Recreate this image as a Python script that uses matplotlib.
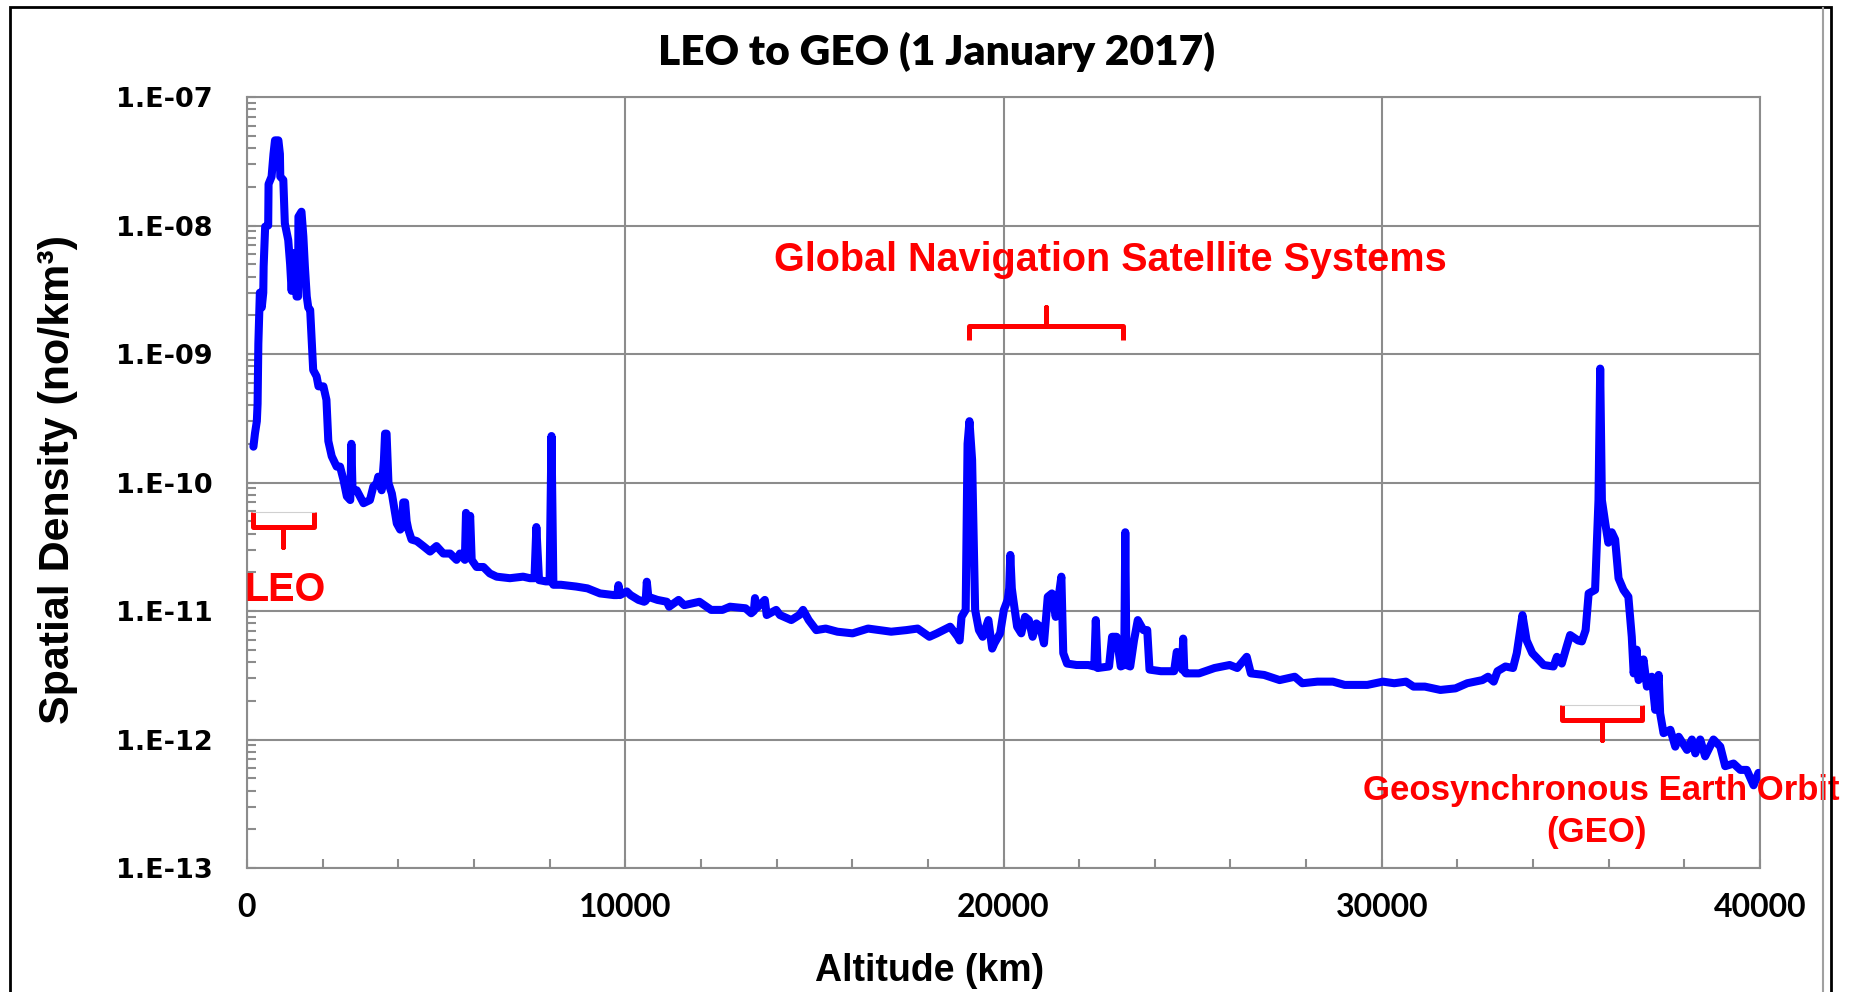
import numpy as np
import matplotlib
matplotlib.use("Agg")
import matplotlib.pyplot as plt
from matplotlib.ticker import FixedLocator, MultipleLocator, LogLocator, FuncFormatter, NullFormatter
from matplotlib.patches import Rectangle
from matplotlib.lines import Line2D

# altitude (km) and spatial density (no/km^3)
altitude = [
    170, 210, 260, 280, 300, 340, 390, 430, 440, 480, 560, 570, 650, 700, 740, 830, 870, 880,
    960, 1000, 1090, 1140, 1180, 1230, 1270, 1310, 1350, 1360, 1440, 1490, 1530, 1580, 1620,
    1670, 1710, 1750, 1840, 1890, 2020, 2100, 2150, 2240, 2370, 2460, 2550, 2640, 2730, 2760,
    2790, 2900, 3080, 3250, 3340, 3430, 3470, 3560, 3620, 3650, 3690, 3740, 3830, 3960, 4050,
    4100, 4130, 4180, 4220, 4265, 4350, 4490, 4660, 4840, 5010, 5190, 5370, 5540, 5630, 5760,
    5790, 5850, 5900, 5940, 6070, 6250, 6420, 6600, 6950, 7300, 7480, 7600, 7650, 7720, 7900,
    8000, 8050, 8100, 8300, 8700, 9000, 9333, 9700, 9790, 9820, 9860, 10040, 10140, 10350,
    10500, 10540, 10570, 10610, 10850, 11100, 11160, 11410, 11560, 11960, 12270, 12570, 12770,
    13180, 13330, 13400, 13430, 13470, 13690, 13740, 13990, 14090, 14390, 14600, 14700, 14850,
    15050, 15300, 15610, 16010, 16420, 17030, 17430, 17730, 18040, 18240, 18590, 18790, 18840,
    18890, 19000, 19050, 19100, 19170, 19250, 19350, 19450, 19600, 19700, 19760, 19910, 20010,
    20110, 20150, 20180, 20220, 20260, 20360, 20470, 20570, 20670, 20770, 20870, 20970, 21070,
    21170, 21280, 21380, 21470, 21530, 21580, 21680, 21930, 22240, 22400, 22440, 22490, 22790,
    22870, 22990, 23100, 23190, 23220, 23250, 23350, 23450, 23550, 23700, 23800, 23860, 24160,
    24510, 24580, 24720, 24750, 24780, 24820, 25170, 25580, 25980, 26180, 26430, 26540, 26890,
    27300, 27700, 27900, 28300, 28710, 29020, 29620, 30030, 30330, 30640, 30840, 31140, 31550,
    31950, 32260, 32660, 32810, 32960, 33060, 33270, 33470, 33570, 33720, 33830, 33980, 34280,
    34540, 34630, 34760, 34890, 34980, 35190, 35290, 35390, 35470, 35640, 35690, 35730, 35775,
    35820, 35910, 35990, 36080, 36170, 36260, 36390, 36520, 36610, 36660, 36740, 36790, 36920,
    37010, 37140, 37230, 37320, 37360, 37450, 37630, 37760, 37850, 38070, 38200, 38290, 38420,
    38550, 38770, 38950, 39080, 39300, 39480, 39650, 39830, 39960,
]
density = [
    1.9e-10, 2.4e-10, 3.0e-10, 4.1e-10, 1.2e-9, 3.0e-9, 2.3e-9, 3.0e-9, 4.8e-9, 9.8e-9, 1.0e-8,
    2.1e-8, 2.4e-8, 3.6e-8, 4.6e-8, 4.6e-8, 3.6e-8, 2.4e-8, 2.26e-8, 1.04e-8, 7.7e-9, 5.0e-9,
    3.1e-9, 6.1e-9, 6.1e-9, 2.8e-9, 2.8e-9, 1.17e-8, 1.28e-8, 8.2e-9, 4.8e-9, 2.8e-9, 2.3e-9,
    2.2e-9, 1.29e-9, 7.5e-10, 6.7e-10, 5.6e-10, 5.6e-10, 4.4e-10, 2.1e-10, 1.6e-10, 1.33e-10,
    1.33e-10, 1.05e-10, 7.8e-11, 7.3e-11, 2.0e-10, 8.7e-11, 8.7e-11, 6.9e-11, 7.3e-11, 9.3e-11,
    9.9e-11, 1.11e-10, 8.7e-11, 1.5e-10, 2.4e-10, 2.4e-10, 9.9e-11, 8.2e-11, 4.8e-11, 4.3e-11,
    4.5e-11, 7.0e-11, 7.0e-11, 5.0e-11, 4.3e-11, 3.6e-11, 3.5e-11, 3.2e-11, 2.9e-11, 3.2e-11,
    2.8e-11, 2.8e-11, 2.5e-11, 2.8e-11, 2.5e-11, 5.8e-11, 4.0e-11, 5.5e-11, 2.5e-11, 2.2e-11,
    2.2e-11, 1.96e-11, 1.85e-11, 1.8e-11, 1.85e-11, 1.8e-11, 1.8e-11, 4.5e-11, 1.74e-11,
    1.7e-11, 1.7e-11, 2.3e-10, 1.6e-11, 1.6e-11, 1.55e-11, 1.5e-11, 1.37e-11, 1.33e-11,
    1.33e-11, 1.59e-11, 1.33e-11, 1.42e-11, 1.33e-11, 1.22e-11, 1.18e-11, 1.2e-11, 1.69e-11,
    1.29e-11, 1.22e-11, 1.18e-11, 1.08e-11, 1.22e-11, 1.11e-11, 1.18e-11, 1.02e-11, 1.02e-11,
    1.08e-11, 1.05e-11, 9.6e-12, 1.0e-11, 1.26e-11, 1.05e-11, 1.22e-11, 9.3e-12, 1.02e-11,
    9.3e-12, 8.5e-12, 9.3e-12, 1.02e-11, 8.5e-12, 7.1e-12, 7.3e-12, 6.9e-12, 6.7e-12, 7.3e-12,
    6.9e-12, 7.1e-12, 7.3e-12, 6.3e-12, 6.7e-12, 7.55e-12, 6.3e-12, 5.9e-12, 9.0e-12, 1.02e-11,
    2.0e-10, 3.0e-10, 1.5e-10, 1.02e-11, 7.1e-12, 6.3e-12, 8.5e-12, 5.1e-12, 5.6e-12, 6.7e-12,
    1.02e-11, 1.22e-11, 1.5e-11, 2.73e-11, 1.5e-11, 1.22e-11, 7.55e-12, 6.7e-12, 9.0e-12,
    8.5e-12, 6.3e-12, 8.0e-12, 7.55e-12, 5.6e-12, 1.29e-11, 1.37e-11, 9.0e-12, 1.37e-11,
    1.85e-11, 4.7e-12, 3.9e-12, 3.8e-12, 3.8e-12, 3.7e-12, 8.5e-12, 3.6e-12, 3.7e-12, 6.3e-12,
    6.3e-12, 3.7e-12, 3.8e-12, 4.1e-11, 3.8e-12, 3.7e-12, 5.9e-12, 8.5e-12, 7.1e-12, 7.1e-12,
    3.5e-12, 3.4e-12, 3.4e-12, 4.8e-12, 3.5e-12, 6.1e-12, 3.4e-12, 3.27e-12, 3.27e-12, 3.6e-12,
    3.8e-12, 3.6e-12, 4.4e-12, 3.27e-12, 3.18e-12, 2.9e-12, 3.08e-12, 2.74e-12, 2.82e-12,
    2.82e-12, 2.66e-12, 2.66e-12, 2.82e-12, 2.74e-12, 2.82e-12, 2.58e-12, 2.58e-12, 2.43e-12,
    2.5e-12, 2.74e-12, 2.9e-12, 3.08e-12, 2.82e-12, 3.4e-12, 3.7e-12, 3.6e-12, 4.7e-12,
    9.3e-12, 5.9e-12, 4.7e-12, 3.8e-12, 3.7e-12, 4.4e-12, 3.9e-12, 5.3e-12, 6.5e-12, 5.9e-12,
    5.8e-12, 7.1e-12, 1.37e-11, 1.46e-11, 3.6e-11, 7.3e-11, 7.7e-10, 7.3e-11, 4.8e-11, 3.4e-11,
    4.1e-11, 3.6e-11, 1.8e-11, 1.46e-11, 1.29e-11, 6.3e-12, 3.27e-12, 5.0e-12, 2.9e-12,
    4.2e-12, 2.58e-12, 3.08e-12, 1.7e-12, 3.18e-12, 1.6e-12, 1.12e-12, 1.19e-12, 8.8e-13,
    1.05e-12, 8.3e-13, 1.0e-12, 7.8e-13, 1.0e-12, 7.4e-13, 1.0e-12, 8.8e-13, 6.2e-13, 6.5e-13,
    5.8e-13, 5.8e-13, 4.4e-13, 5.5e-13,
]

x_ticks = [0, 10000, 20000, 30000, 40000]
y_ticks = [1e-13, 1e-12, 1e-11, 1e-10, 1e-9, 1e-8, 1e-7]

W, H = 1857, 992
fig = plt.figure(figsize=(W / 100, H / 100), dpi=100)
ax = fig.add_axes([247 / W, 1 - 868 / H, 1513 / W, 771 / H])

gray = "#8c8c8c"
ax.plot(altitude, density, color="#0000ff", lw=5.8, solid_joinstyle="round",
        solid_capstyle="round", zorder=3)

ax.set_yscale("log")
ax.set_xlim(0, 40000)
ax.set_ylim(1e-13, 1e-7)
ax.xaxis.set_major_locator(FixedLocator(x_ticks))
ax.xaxis.set_minor_locator(MultipleLocator(2000))
ax.yaxis.set_major_locator(FixedLocator(y_ticks))
ax.yaxis.set_minor_locator(LogLocator(base=10, subs=np.arange(2, 10)))
ax.yaxis.set_minor_formatter(NullFormatter())
ax.yaxis.set_major_formatter(FuncFormatter(lambda v, p: "1.E%03d" % int(round(np.log10(v)))))

ax.grid(True, which="major", color=gray, lw=1.5, zorder=1)
for s in ax.spines.values():
    s.set_color(gray)
    s.set_linewidth(1.5)
ax.tick_params(which="both", direction="in", color=gray, width=1.5, length=6.5)
ax.tick_params(axis="y", pad=25)
ax.tick_params(axis="x", pad=18)
for lab in ax.get_yticklabels():
    lab.set_fontfamily("DejaVu Sans")
    lab.set_fontweight("bold")
    lab.set_fontsize(19.5)
for lab in ax.get_xticklabels():
    lab.set_fontfamily("Lato")
    lab.set_fontweight("bold")
    lab.set_fontsize(23)

# titles and axis labels
fig.text(937 / W, 1 - 52 / H, "LEO to GEO (1 January 2017)", ha="center", va="center",
         fontfamily="Lato", fontweight="heavy", fontsize=30.5)
fig.text(930 / W, 1 - 971 / H, "Altitude (km)", ha="center", va="center",
         fontfamily="Liberation Sans", fontweight="bold", fontsize=27)
fig.text(58 / W, 1 - 480 / H, "Spatial Density (no/km³)", ha="center", va="center",
         rotation=90, fontfamily="Liberation Sans", fontweight="bold", fontsize=31)

# red annotations
red = "#ff0000"
ax.text(22818, 5.4e-9, "Global Navigation Satellite Systems", ha="center", va="center",
        color=red, fontfamily="Liberation Sans", fontweight="bold", fontsize=28.5)
ax.text(-80, 1.45e-11, "LEO", ha="left", va="center", color=red,
        fontfamily="Liberation Sans", fontweight="bold", fontsize=28.5, clip_on=False)
ax.text(35800, 4.0e-13, "Geosynchronous Earth Orbit", ha="center", va="center", color=red,
        fontfamily="Liberation Sans", fontweight="bold", fontsize=25, clip_on=False, zorder=5)
ax.text(35670, 1.9e-13, "(GEO)", ha="center", va="center", color=red,
        fontfamily="Liberation Sans", fontweight="bold", fontsize=25, clip_on=False, zorder=5)


def brace(x0, x1, y_end, y_mid, y_tip, top_line=False):
    xm = (x0 + x1) / 2
    ax.plot([x0, x0, xm, xm, xm, x1, x1], [y_end, y_mid, y_mid, y_tip, y_mid, y_mid, y_end],
            color=red, lw=3.6, solid_joinstyle="round", solid_capstyle="butt", zorder=4)
    if top_line:
        ax.plot([x0, x1], [y_end, y_end], color="#d0d0d0", lw=0.8, zorder=4)


brace(19090, 23161, 1.29e-9, 1.65e-9, 2.32e-9)
brace(151, 1771, 5.9e-11, 4.5e-11, 3.16e-11, top_line=True)
brace(34761, 36876, 1.85e-12, 1.42e-12, 9.9e-13, top_line=True)

# outer chart frame
fig.add_artist(Rectangle((10 / W, -0.05), (1831 - 10) / W, 1.05 - 7 / H,
                         transform=fig.transFigure, fill=False, ec="black", lw=2))
fig.add_artist(Line2D([1823 / W, 1823 / W], [0, 1 - 8 / H], transform=fig.transFigure,
                      color="#a0a0a0", lw=1.5))

fig.savefig("out.png", dpi=100)
